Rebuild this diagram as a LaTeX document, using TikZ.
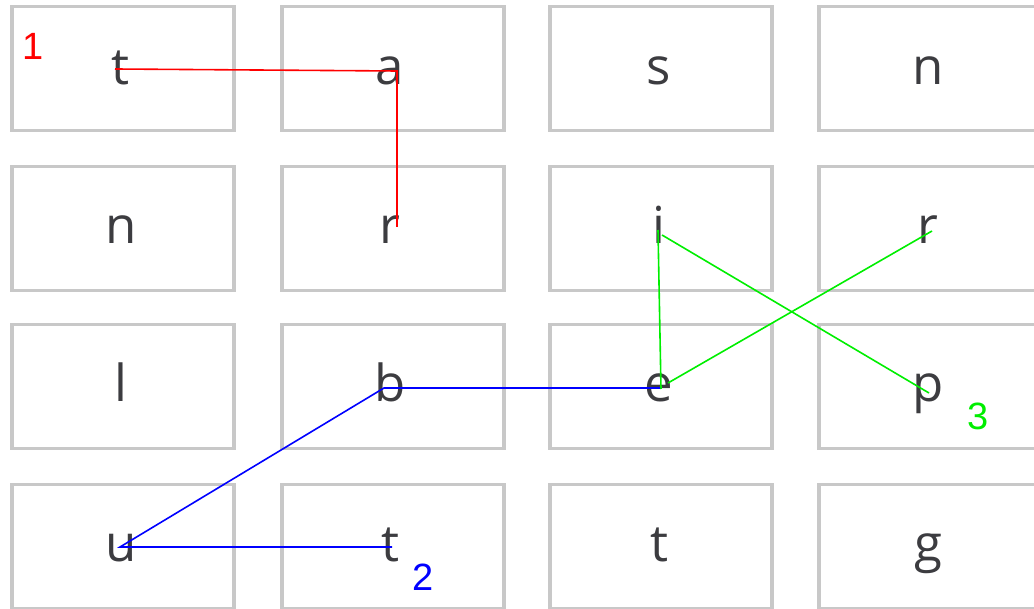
\documentclass[tikz,border=0pt]{standalone}
\usepackage{fontspec}
\setmainfont{Open Sans}
\newfontfamily\labfont{Liberation Sans}
\definecolor{boxgray}{HTML}{C8C8C8}
\definecolor{lettergray}{HTML}{3C3C40}
\definecolor{pgreen}{HTML}{00EE00}
\begin{document}
\begin{tikzpicture}[x=1pt,y=-1pt,
  cell/.style={draw=boxgray,line width=3.5pt,minimum width=222pt,minimum height=124pt,anchor=north west,inner sep=0pt},
  letter/.style={anchor=base,text=lettergray,font=\fontsize{51}{60}\selectfont,inner sep=0pt},
  pathlab/.style={font=\labfont\fontsize{38}{44}\selectfont,inner sep=0pt},
  trail/.style={line width=1.6pt}]
\useasboundingbox (0,0) rectangle (1034,609);
\begin{scope}
\clip (0,0) rectangle (1034,609);
% boxes
\foreach \r/\ty in {1/5,2/165,3/323,4/483}{
  \foreach \c/\lx in {1/10,2/280,3/548,4/817}{
    \node[cell] (b\r\c) at (\lx,\ty) {};
  }
}
\end{scope}
% letters
\node[letter] (l11) at (121,85) {t};
\node[letter] (l12) at (390,85) {a};
\node[letter] (l13) at (659,85) {s};
\node[letter] (l14) at (928,85) {n};
\node[letter] (l21) at (121,244) {n};
\node[letter] (l22) at (390,244) {r};
\node[letter] (l23) at (659,244) {i};
\node[letter] (l24) at (928,244) {r};
\node[letter] (l31) at (121,402) {l};
\node[letter] (l32) at (390,402) {b};
\node[letter] (l33) at (659,402) {e};
\node[letter] (l34) at (928,402) {p};
\node[letter] (l41) at (121,561) {u};
\node[letter] (l42) at (390,561) {t};
\node[letter] (l43) at (659,561) {t};
\node[letter] (l44) at (928,561) {g};
% trail points
\coordinate (pt) at (115,69);
\coordinate (pa) at (397,71);
\coordinate (pr) at (397,227);
\coordinate (pi) at (658,230);
\coordinate (pi2) at (662,235);
\coordinate (pe) at (661,389);
\coordinate (pe2) at (668,383);
\coordinate (pr2) at (932,231);
\coordinate (pp) at (929,393);
\coordinate (pu) at (120,547);
\coordinate (pb) at (384,388);
\coordinate (pe3) at (660,388);
\coordinate (pt2) at (392,547);
% trails
\draw[trail,red] (pt) -- (pa) -- (pr);
\draw[trail,pgreen] (pi) -- (pe);
\draw[trail,pgreen] (pi2) -- (pp);
\draw[trail,pgreen] (pe2) -- (pr2);
\draw[trail,blue] (pt2) -- (pu) -- (pb) -- (pe3);
% labels
\node[pathlab,text=red] (n1) at (33,46) {1};
\node[pathlab,text=blue] (n2) at (423,577) {2};
\node[pathlab,text=pgreen] (n3) at (978,416) {3};
\end{tikzpicture}
\end{document}
